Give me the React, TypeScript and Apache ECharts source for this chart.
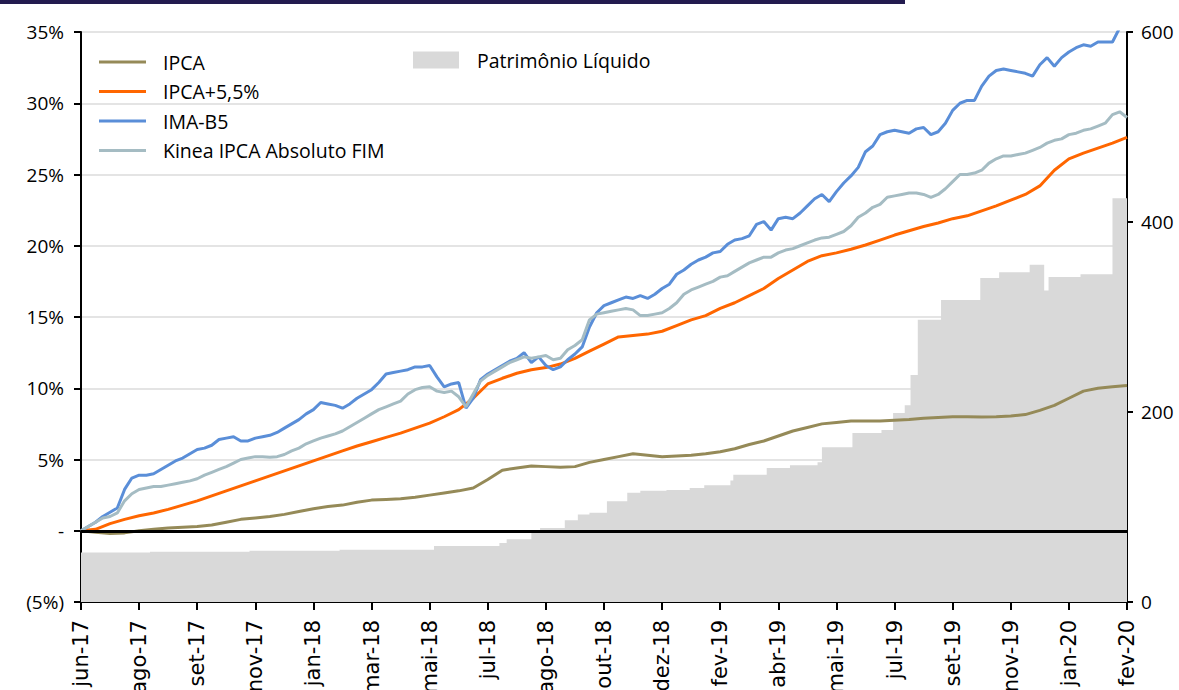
import React, { useEffect, useRef } from "react";
import * as echarts from "echarts";

// Date-axis tick labels (one every 4 steps of the series)
const tickLabels = [
  "jun-17", "ago-17", "set-17", "nov-17", "jan-18", "mar-18", "mai-18", "jul-18", "ago-18", "out-18",
  "dez-18", "fev-19", "abr-19", "mai-19", "jul-19", "set-19", "nov-19", "jan-20", "fev-20",
];
const STEPS_PER_TICK = 4;

// Accumulated return (%) — one value per step
const ipca = [
  0, -0.1, -0.2, -0.15, 0.0, 0.1, 0.2, 0.25, 0.3, 0.4,
  0.6, 0.8, 0.9, 1.0, 1.15, 1.35, 1.55, 1.7, 1.8, 2.0,
  2.15, 2.2, 2.25, 2.35, 2.5, 2.65, 2.8, 3.0, 3.6, 4.25,
  4.4, 4.55, 4.5, 4.45, 4.5, 4.8, 5.0, 5.2, 5.4, 5.3,
  5.2, 5.25, 5.3, 5.4, 5.55, 5.75, 6.05, 6.3, 6.65, 7.0,
  7.25, 7.5, 7.6, 7.7, 7.7, 7.7, 7.75, 7.8, 7.9, 7.95,
  8.0, 8.0, 7.98, 8.0, 8.05, 8.15, 8.45, 8.8, 9.3, 9.8,
  10.0, 10.1, 10.2,
];
const ipcaPlus = [
  0, 0.1, 0.5, 0.8, 1.05, 1.25, 1.5, 1.8, 2.1, 2.45,
  2.8, 3.15, 3.5, 3.85, 4.2, 4.55, 4.9, 5.25, 5.6, 5.95,
  6.25, 6.55, 6.85, 7.2, 7.55, 8.0, 8.5, 9.3, 10.3, 10.7,
  11.05, 11.3, 11.45, 11.7, 12.1, 12.6, 13.1, 13.6, 13.7, 13.8,
  14.0, 14.4, 14.8, 15.1, 15.6, 16.0, 16.5, 17.0, 17.7, 18.3,
  18.9, 19.3, 19.5, 19.75, 20.05, 20.4, 20.75, 21.05, 21.35, 21.6,
  21.9, 22.1, 22.45, 22.8, 23.2, 23.6, 24.2, 25.3, 26.1, 26.5,
  26.85, 27.2, 27.6,
];
// Accumulated return (%) — one value per half step
const imaB5 = [
  0.0, 0.3, 0.6, 1.0, 1.3, 1.6, 2.9, 3.7, 3.9, 3.9,
  4.0, 4.3, 4.6, 4.9, 5.1, 5.4, 5.7, 5.8, 6.0, 6.4,
  6.5, 6.6, 6.3, 6.3, 6.5, 6.6, 6.7, 6.9, 7.2, 7.5,
  7.8, 8.2, 8.5, 9.0, 8.9, 8.8, 8.6, 8.9, 9.3, 9.6,
  9.9, 10.4, 11.0, 11.1, 11.2, 11.3, 11.5, 11.5, 11.6, 10.8,
  10.1, 10.3, 10.4, 8.6, 9.3, 10.6, 11.0, 11.3, 11.6, 11.9,
  12.1, 12.5, 11.8, 12.2, 11.6, 11.3, 11.5, 12.0, 12.4, 12.9,
  14.3, 15.3, 15.8, 16.0, 16.2, 16.4, 16.3, 16.5, 16.3, 16.6,
  17.0, 17.3, 18.0, 18.3, 18.7, 19.0, 19.2, 19.5, 19.6, 20.1,
  20.4, 20.5, 20.7, 21.5, 21.7, 21.1, 21.9, 22.0, 21.9, 22.3,
  22.8, 23.3, 23.6, 23.1, 23.8, 24.4, 24.9, 25.5, 26.6, 27.0,
  27.8, 28.0, 28.1, 28.0, 27.9, 28.2, 28.3, 27.8, 28.0, 28.6,
  29.5, 30.0, 30.2, 30.2, 31.2, 31.9, 32.3, 32.4, 32.3, 32.2,
  32.1, 31.9, 32.7, 33.2, 32.6, 33.2, 33.6, 33.9, 34.1, 34.0,
  34.3, 34.3, 34.3, 35.3, 36.0,
];
const kinea = [
  0, 0.3, 0.6, 0.9, 1.0, 1.25, 2.1, 2.6, 2.9, 3.0,
  3.1, 3.1, 3.2, 3.3, 3.4, 3.5, 3.65, 3.9, 4.1, 4.3,
  4.5, 4.75, 5.0, 5.1, 5.2, 5.2, 5.15, 5.2, 5.35, 5.6,
  5.8, 6.1, 6.3, 6.5, 6.65, 6.8, 7.0, 7.3, 7.6, 7.9,
  8.2, 8.5, 8.7, 8.9, 9.1, 9.6, 9.9, 10.05, 10.1, 9.8,
  9.7, 9.8, 9.4, 8.7, 9.6, 10.5, 10.9, 11.2, 11.5, 11.8,
  12.0, 12.2, 12.1, 12.2, 12.3, 12.0, 12.1, 12.7, 13.0, 13.4,
  14.8, 15.2, 15.3, 15.4, 15.5, 15.6, 15.5, 15.1, 15.1, 15.2,
  15.3, 15.6, 16.0, 16.6, 16.9, 17.1, 17.3, 17.5, 17.8, 17.9,
  18.2, 18.5, 18.8, 19.0, 19.2, 19.2, 19.5, 19.7, 19.8, 20.0,
  20.2, 20.4, 20.55, 20.6, 20.8, 21.0, 21.4, 22.0, 22.3, 22.7,
  22.9, 23.4, 23.5, 23.6, 23.7, 23.7, 23.6, 23.4, 23.6, 24.0,
  24.5, 25.0, 25.0, 25.1, 25.3, 25.8, 26.1, 26.3, 26.3, 26.4,
  26.5, 26.7, 26.9, 27.2, 27.4, 27.5, 27.8, 27.9, 28.1, 28.2,
  28.4, 28.6, 29.2, 29.4, 29.0,
];

// Patrimônio Líquido (right axis): position on the date axis (in steps) where each level starts
const plPos = [
  0, 4.75, 11.6, 17.8, 24.3, 28.8, 29.3, 31.0, 31.6, 33.3,
  34.2, 35.0, 36.2, 37.6, 38.5, 40.3, 41.9, 42.9, 44.7, 44.9,
  47.2, 48.8, 50.7, 51.0, 53.1, 55.1, 55.9, 56.7, 57.1, 57.6,
  59.2, 61.9, 63.2, 65.3, 66.3, 66.6, 68.8, 71.0, 72,
];
const plVal = [
  52, 53, 54, 55, 59, 62, 66, 74, 78, 86,
  92, 94, 106, 115, 117, 118, 120, 123, 128, 134,
  141, 144, 147, 163, 178, 181, 199, 207, 239, 297,
  318, 341, 347, 355, 328, 342, 345, 425, 424,
];

const FONT = "'Open Sans', 'Noto Sans', sans-serif";
const X_FONT = "'DejaVu Sans', sans-serif";
const C_IPCA = "#958a58";
const C_PLUS = "#ff6600";
const C_IMA = "#5a8ed8";
const C_KINEA = "#a5bcc3";
const C_PL = "#d9d9d9";

const toXY = (arr: number[], stepsPerPoint = 1) => arr.map((v, i) => [i * stepsPerPoint, v]);

function buildOption() {
  const lineBase = {
    type: "line",
    symbol: "none",
    smooth: false,
    z: 3,
  };
  const legendText = {
    fontFamily: FONT,
    fontSize: 19.5,
    color: "#000",
    lineHeight: 20,
  };
  return {
    animation: false,
    backgroundColor: "#ffffff",
    textStyle: { fontFamily: FONT },
    graphic: [
      {
        type: "rect",
        left: 0,
        top: 0,
        shape: { width: 905, height: 4 },
        style: { fill: "#231b4f" },
        z: 10,
      },
    ],
    grid: {
      left: 81,
      right: 52,
      top: 32,
      bottom: 88,
      containLabel: false,
      outerBoundsMode: "none",
      show: true,
      borderColor: "#222",
      borderWidth: 1,
      backgroundColor: "transparent",
    },
    legend: [
      {
        orient: "vertical",
        left: 99,
        top: 52,
        padding: 0,
        icon: "rect",
        itemWidth: 47,
        itemHeight: 3,
        itemGap: 9.5,
        data: ["IPCA", "IPCA+5,5%", "IMA-B5", "Kinea IPCA Absoluto FIM"],
        textStyle: { ...legendText, padding: [0, 0, 0, 12] },
      },
      {
        left: 413,
        top: 50,
        padding: 0,
        icon: "rect",
        itemWidth: 46,
        itemHeight: 17,
        data: ["Patrimônio Líquido"],
        textStyle: { ...legendText, padding: [0, 0, 0, 13] },
      },
    ],
    xAxis: {
      type: "value",
      min: 0,
      max: (tickLabels.length - 1) * STEPS_PER_TICK,
      interval: STEPS_PER_TICK,
      splitLine: { show: false },
      axisLine: { show: true, onZero: false, lineStyle: { color: "#000", width: 2 } },
      axisTick: { show: true, length: 8, lineStyle: { color: "#000", width: 2 } },
      axisLabel: {
        rotate: 90,
        margin: 18,
        fontFamily: X_FONT,
        fontSize: 21,
        color: "#000",
        formatter: (v: number) => tickLabels[Math.round(v / STEPS_PER_TICK)] ?? "",
      },
    },
    yAxis: [
      {
        type: "value",
        min: -5,
        max: 35,
        interval: 5,
        axisLine: { show: true, onZero: false, lineStyle: { color: "#000", width: 2 } },
        axisTick: { show: true, length: 7, lineStyle: { color: "#000", width: 2 } },
        splitLine: { show: true, lineStyle: { color: "#e4e4e4", width: 2 } },
        axisLabel: {
          margin: 17,
          fontFamily: FONT,
          fontSize: 19,
          color: "#000",
          formatter: (v: number) => (v < 0 ? `(${-v}%)` : v === 0 ? "-" : `${v}%`),
        },
      },
      {
        type: "value",
        min: 0,
        max: 600,
        interval: 200,
        position: "right",
        axisLine: { show: true, onZero: false, lineStyle: { color: "#000", width: 2 } },
        axisTick: { show: true, length: 6, lineStyle: { color: "#000", width: 2 } },
        splitLine: { show: false },
        axisLabel: {
          margin: 14,
          fontFamily: FONT,
          fontSize: 19,
          color: "#000",
        },
      },
    ],
    series: [
      {
        name: "Patrimônio Líquido",
        type: "line",
        yAxisIndex: 1,
        step: "end",
        symbol: "none",
        z: 1,
        itemStyle: { color: C_PL },
        lineStyle: { width: 0, color: C_PL },
        areaStyle: { color: C_PL, opacity: 1 },
        data: plPos.map((p, i) => [p, plVal[i]]),
      },
      {
        ...lineBase,
        name: "IPCA",
        itemStyle: { color: C_IPCA },
        lineStyle: { color: C_IPCA, width: 3 },
        data: toXY(ipca),
        markLine: {
          silent: true,
          symbol: ["none", "none"],
          label: { show: false },
          lineStyle: { color: "#000", width: 3, type: "solid" },
          data: [{ yAxis: 0 }],
        },
      },
      {
        ...lineBase,
        name: "IPCA+5,5%",
        itemStyle: { color: C_PLUS },
        lineStyle: { color: C_PLUS, width: 3 },
        data: toXY(ipcaPlus),
      },
      {
        ...lineBase,
        name: "IMA-B5",
        itemStyle: { color: C_IMA },
        lineStyle: { color: C_IMA, width: 3 },
        data: toXY(imaB5, 0.5),
      },
      {
        ...lineBase,
        name: "Kinea IPCA Absoluto FIM",
        itemStyle: { color: C_KINEA },
        lineStyle: { color: C_KINEA, width: 3 },
        data: toXY(kinea, 0.5),
      },
    ],
  };
}

export default function App() {
  const ref = useRef<HTMLDivElement>(null);
  useEffect(() => {
    if (!ref.current) return;
    const chart = echarts.init(ref.current, null, { renderer: "svg" });
    chart.setOption(buildOption() as any);
    return () => chart.dispose();
  }, []);
  return (
    <div
      ref={ref}
      style={{ position: "absolute", left: 0, top: 0, width: 1179, height: 690, background: "#fff" }}
    />
  );
}
